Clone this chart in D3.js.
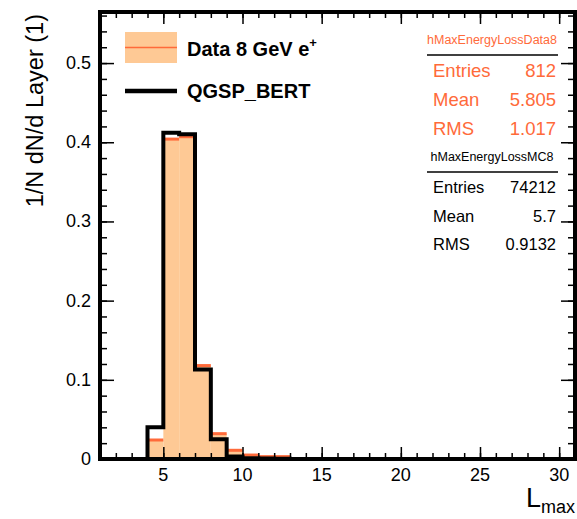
<!DOCTYPE html>
<html>
<head>
<meta charset="utf-8">
<script src="https://cdn.jsdelivr.net/npm/d3@7"></script>
<style>
  html, body { margin: 0; padding: 0; background: #fff; }
  svg { display: block; font-family: "Liberation Sans", Arial, sans-serif; }
</style>
</head>
<body>
<svg id="chart" width="577" height="519"></svg>
<script>
(function () {
  "use strict";

  // bins of width 1, low edges
  const binLow    = [4, 5, 6, 7, 8, 9, 10, 11, 12];
  const dataVals  = [0.024, 0.404, 0.407, 0.118, 0.032, 0.011, 0.005, 0.003, 0.003];
  const mcVals    = [0.040, 0.412, 0.410, 0.113, 0.025, 0.003, 0.001, 0.0005, 0.0003];

  const xMajor = [5, 10, 15, 20, 25, 30];
  const yMajor = [0, 0.1, 0.2, 0.3, 0.4, 0.5];

  const dataStats = [["Entries", "812"], ["Mean", "5.805"], ["RMS", "1.017"]];
  const mcStats   = [["Entries", "74212"], ["Mean", "5.7"], ["RMS", "0.9132"]];

  const ORANGE_FILL = "#fec995";
  const ORANGE_LINE = "#ff6a3a";

  const L = 100, R = 575, T = 12, B = 459;

  const x = d3.scaleLinear().domain([1, 31]).range([L, R]);
  const y = d3.scaleLinear().domain([0, 0.5645]).range([B, T]);

  const svg = d3.select("#chart");

  // data histogram (filled)
  const gData = svg.append("g");
  gData.selectAll("rect")
    .data(binLow.map((lo, i) => ({ lo, v: dataVals[i] })))
    .join("rect")
    .attr("x", d => x(d.lo))
    .attr("y", d => y(d.v))
    .attr("width", d => x(d.lo + 1) - x(d.lo))
    .attr("height", d => B - y(d.v))
    .attr("fill", ORANGE_FILL);
  gData.selectAll("line")
    .data(binLow.map((lo, i) => ({ lo, v: dataVals[i] })))
    .join("line")
    .attr("x1", d => x(d.lo)).attr("x2", d => x(d.lo + 1))
    .attr("y1", d => y(d.v)).attr("y2", d => y(d.v))
    .attr("stroke", ORANGE_LINE)
    .attr("stroke-width", 3);

  // minor/major ticks (inside the frame, mirrored)
  const xMinor = d3.range(2, 31);
  const yMinor = d3.range(0, 0.561, 0.02);

  function tickAxis(axis, tr, size) {
    svg.append("g").attr("transform", tr)
      .call(axis.tickSize(size).tickFormat(""))
      .call(g => g.select(".domain").remove())
      .call(g => g.selectAll("line").attr("stroke", "#000").attr("stroke-width", 1.5));
  }
  tickAxis(d3.axisBottom(x).tickValues(xMinor), `translate(0,${B})`, -6);
  tickAxis(d3.axisBottom(x).tickValues(xMajor), `translate(0,${B})`, -12);
  tickAxis(d3.axisTop(x).tickValues(xMinor), `translate(0,${T})`, -6);
  tickAxis(d3.axisTop(x).tickValues(xMajor), `translate(0,${T})`, -12);
  tickAxis(d3.axisLeft(y).tickValues(yMinor), `translate(${L},0)`, -7);
  tickAxis(d3.axisLeft(y).tickValues(yMajor), `translate(${L},0)`, -14);
  tickAxis(d3.axisRight(y).tickValues(yMinor), `translate(${R},0)`, -7);
  tickAxis(d3.axisRight(y).tickValues(yMajor), `translate(${R},0)`, -14);

  // MC histogram (black step line)
  const pts = [[binLow[0], 0]];
  binLow.forEach((lo, i) => { pts.push([lo, mcVals[i]], [lo + 1, mcVals[i]]); });
  pts.push([binLow[binLow.length - 1] + 1, 0]);
  svg.append("path")
    .attr("d", d3.line().x(d => x(d[0])).y(d => y(d[1]))(pts))
    .attr("fill", "none")
    .attr("stroke", "#000")
    .attr("stroke-width", 4)
    .attr("stroke-linejoin", "miter");

  // frame
  svg.append("rect")
    .attr("x", L).attr("y", T).attr("width", R - L).attr("height", B - T)
    .attr("fill", "none").attr("stroke", "#000").attr("stroke-width", 4);

  // tick labels
  svg.append("g").selectAll("text").data(xMajor).join("text")
    .attr("x", d => x(d)).attr("y", B + 22)
    .attr("text-anchor", "middle").attr("font-size", 18)
    .text(d => d);
  svg.append("g").selectAll("text").data(yMajor).join("text")
    .attr("x", L - 9).attr("y", d => y(d) + 6)
    .attr("text-anchor", "end").attr("font-size", 18)
    .text(d => d === 0 ? "0" : d3.format(".1f")(d));

  // axis titles
  svg.append("text")
    .attr("transform", `translate(43,${T + 2}) rotate(-90)`)
    .attr("text-anchor", "end").attr("font-size", 23.5)
    .text("1/N dN/d Layer (1)");
  const xt = svg.append("text").attr("x", 575).attr("y", 507)
    .attr("text-anchor", "end").attr("font-size", 27);
  xt.append("tspan").text("L");
  xt.append("tspan").attr("font-size", 18).attr("dy", 6).text("max");

  // legend
  const lg = svg.append("g");
  lg.append("rect").attr("x", 125).attr("y", 32).attr("width", 52).attr("height", 31)
    .attr("fill", ORANGE_FILL);
  lg.append("line").attr("x1", 125).attr("x2", 177).attr("y1", 47.5).attr("y2", 47.5)
    .attr("stroke", ORANGE_LINE).attr("stroke-width", 1.5);
  const t1 = lg.append("text").attr("x", 187).attr("y", 56)
    .attr("font-size", 20).attr("font-weight", "bold");
  t1.append("tspan").text("Data 8 GeV e");
  t1.append("tspan").attr("font-size", 13).attr("dy", -9).text("+");
  lg.append("line").attr("x1", 125).attr("x2", 177).attr("y1", 91).attr("y2", 91)
    .attr("stroke", "#000").attr("stroke-width", 4.5);
  lg.append("text").attr("x", 187).attr("y", 98)
    .attr("font-size", 20).attr("font-weight", "bold").text("QGSP_BERT");

  // stats boxes
  function statBox(top, title, rows, color, rowSize, rowStep, rowOff) {
    const g = svg.append("g").attr("fill", color);
    g.append("text").attr("x", 492).attr("y", top + 14).attr("text-anchor", "middle")
      .attr("font-size", 12.5).text(title);
    g.append("line").attr("x1", 427).attr("x2", 558).attr("y1", top + 25).attr("y2", top + 25)
      .attr("stroke", "#000").attr("stroke-width", 1.5);
    rows.forEach((r, i) => {
      const yy = top + rowOff + i * rowStep;
      g.append("text").attr("x", 433).attr("y", yy).attr("font-size", rowSize).text(r[0]);
      g.append("text").attr("x", 556).attr("y", yy).attr("text-anchor", "end")
        .attr("font-size", rowSize).text(r[1]);
    });
  }
  statBox(30, "hMaxEnergyLossData8", dataStats, ORANGE_LINE, 18.5, 29, 47);
  statBox(147, "hMaxEnergyLossMC8", mcStats, "#000", 16.5, 28.5, 46);
})();
</script>
</body>
</html>
